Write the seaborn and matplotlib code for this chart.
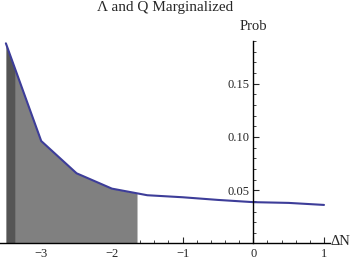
import numpy as np
import pandas as pd
import matplotlib
matplotlib.use("Agg")
import matplotlib.pyplot as plt
import seaborn as sns

# Data
delta_n = [-3.5, -3.0, -2.5, -2.0, -1.5, -1.0, -0.5, 0.0, 0.5, 1.0]
prob = [0.1879, 0.0962, 0.0659, 0.0515, 0.0453, 0.0434, 0.0409, 0.0388, 0.0381, 0.0362]
dark_region = (-3.5, -3.366)
light_region = (-3.366, -1.645)
x_ticks = [-3, -2, -1, 0, 1]
y_ticks = [0.05, 0.10, 0.15]

sns.set_style("ticks")
plt.rcParams['font.family'] = ['Liberation Serif', 'DejaVu Serif']

fig = plt.figure(figsize=(3.6, 2.6), dpi=100)
ax = fig.add_axes([0.0, 0.0635, 0.9167, 0.7785])

df = pd.DataFrame({"dN": delta_n, "P": prob})
xs = np.asarray(delta_n, dtype=float)
ys = np.asarray(prob, dtype=float)

def region_fill(lo, hi, color):
    inner = xs[(xs > lo) & (xs < hi)]
    px = np.concatenate([[lo], inner, [hi]])
    py = np.interp(px, xs, ys)
    ax.fill_between(px, 0, py, color=color, linewidth=0, zorder=1)

region_fill(*dark_region, "#555555")
region_fill(*light_region, "#808080")

sns.lineplot(data=df, x="dN", y="P", ax=ax, color="#3d3d99", linewidth=1.5, zorder=3)

ax.set_xlim(-3.583, 1.085)
ax.set_ylim(0, 0.19)

for s in ["top", "right"]:
    ax.spines[s].set_visible(False)
ax.spines["left"].set_position(("data", 0))
ax.spines["bottom"].set_position(("data", 0))
for s in ["left", "bottom"]:
    ax.spines[s].set_linewidth(1.0)
    ax.spines[s].set_color("black")
    ax.spines[s].set_zorder(5)

ax.set_xticks(x_ticks)
ax.set_xticklabels(["\u22123", "\u22122", "\u22121", "0", "1"])
ax.set_yticks(y_ticks)
ax.set_yticklabels(["0.05", "0.10", "0.15"])
ax.set_xticks(np.arange(-3.4, 1.01, 0.2), minor=True)
ax.set_yticks(np.arange(0.01, 0.191, 0.01), minor=True)
ax.tick_params(which="major", direction="in", length=4, width=0.8, labelsize=9, pad=3)
ax.tick_params(which="minor", direction="in", length=2, width=0.6)
ax.set_xlabel("")
ax.set_ylabel("")

fig.text(165 / 360, 1 - 8 / 260, "\u039b and Q Marginalized", ha="center", va="center", fontsize=11)
ax.text(0, 0.204, "Prob", ha="center", va="center", fontsize=10.5, clip_on=False)
ax.text(1.226, 0.002, "\u0394N", ha="center", va="center", fontsize=10.5, clip_on=False)

fig.savefig("out.png", dpi=100)
